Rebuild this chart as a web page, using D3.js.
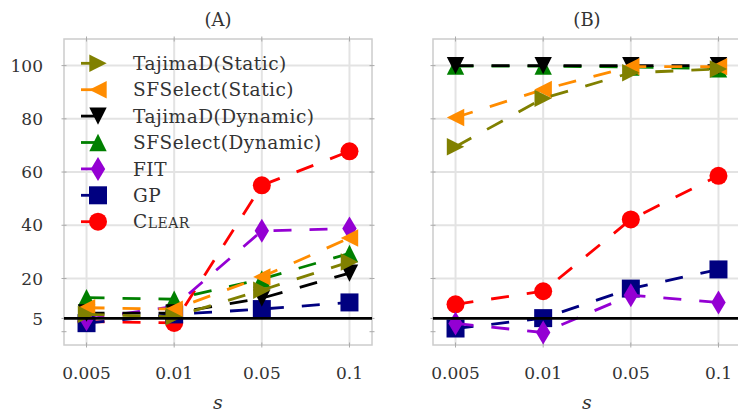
<!DOCTYPE html>
<html>
<head>
<meta charset="utf-8">
<script src="https://cdn.jsdelivr.net/npm/d3@7"></script>
<style>
	body { margin: 0; background: #fff; }
	text { font-family: "DejaVu Serif", serif; fill: #333; }
</style>
</head>
<body>
<svg id="chart"></svg>
<script>
const WIDTH = 738;
const HEIGHT = 412;

const sLabels = ["0.005", "0.01", "0.05", "0.1"];
const seriesNames = [
	"TajimaD(Static)",
	"SFSelect(Static)",
	"TajimaD(Dynamic)",
	"SFSelect(Dynamic)",
	"FIT",
	"GP",
	"Clear",
];
const seriesColors = ["#808000", "#ff8c00", "#000000", "#008000", "#9400d3", "#000080", "#ff0000"];
const seriesMarkers = ["right", "left", "down", "up", "diamond", "square", "circle"];

// panel (A)
const tajimaStaticA = [6.5, 5.6, 15.6, 26.2];
const sfselectStaticA = [9, 8.5, 20.6, 35.2];
const tajimaDynamicA = [7, 7, 12.6, 22];
const sfselectDynamicA = [12.8, 12.2, 19.8, 29.4];
const fitA = [4.7, 9.5, 37.9, 38.8];
const gpA = [3.2, 6.5, 8.5, 11];
const clearA = [3.8, 3.3, 55, 67.8];

// panel (B)
const tajimaStaticB = [69.5, 87.7, 97.3, 98.7];
const sfselectStaticB = [80.5, 91, 99.6, 99.6];
const tajimaDynamicB = [100, 100, 100, 100];
const sfselectDynamicB = [99.8, 99.8, 99.5, 98.8];
const fitB = [3.1, -0.3, 13.7, 11];
const gpB = [1.2, 5.1, 16.2, 23.4];
const clearB = [10.3, 15.2, 42.2, 58.6];

const panelTitles = ["(A)", "(B)"];
const yTickMarks = [0, 5, 20, 40, 60, 80, 100];
const yTickLabels = [5, 20, 40, 60, 80, 100];
const yGridLines = [20, 40, 60, 80, 100];
const referenceLevel = 5;
const xAxisTitle = "s";

const panelSeries = [
	[tajimaStaticA, sfselectStaticA, tajimaDynamicA, sfselectDynamicA, fitA, gpA, clearA],
	[tajimaStaticB, sfselectStaticB, tajimaDynamicB, sfselectDynamicB, fitB, gpB, clearB],
];

const svg = d3.select("#chart").attr("width", WIDTH).attr("height", HEIGHT);

const PANEL_LEFTS = [64, 433];
const PANEL_W = 308;
const PLOT_TOP = 39;
const PLOT_BOTTOM = 345;

const y = d3.scaleLinear([-5, 110], [PLOT_BOTTOM, PLOT_TOP]);
const line = d3.line();

function markerPath(kind) {
	const h = 8.7;
	switch (kind) {
		case "right":
			return `M${-h},${-h}L${h},0L${-h},${h}Z`;
		case "left":
			return `M${h},${-h}L${-h},0L${h},${h}Z`;
		case "down":
			return `M${-h},${-h}L${h},${-h}L0,${h}Z`;
		case "up":
			return `M0,${-h}L${h},${h}L${-h},${h}Z`;
		case "diamond":
			return "M0,-12L7.2,0L0,12L-7.2,0Z";
		case "square":
			return "M-9,-9H9V9H-9Z";
		case "circle":
			return d3.symbol(d3.symbolCircle, Math.PI * 81)();
	}
}

function drawPanel(p) {
	const left = PANEL_LEFTS[p];
	const right = left + PANEL_W;
	const x = d3.scalePoint(sLabels, [left, right]).padding(0.257);
	const g = svg.append("g");

	// grid
	g.selectAll(".vgrid").data(sLabels).join("line")
		.attr("x1", d => x(d)).attr("x2", d => x(d))
		.attr("y1", PLOT_TOP).attr("y2", PLOT_BOTTOM)
		.attr("stroke", "#e3e3e3").attr("stroke-width", 2);
	g.selectAll(".hgrid").data(yGridLines).join("line")
		.attr("x1", left).attr("x2", right)
		.attr("y1", d => y(d)).attr("y2", d => y(d))
		.attr("stroke", "#e3e3e3").attr("stroke-width", 2);

	// frame
	g.append("rect")
		.attr("x", left).attr("y", PLOT_TOP)
		.attr("width", PANEL_W).attr("height", PLOT_BOTTOM - PLOT_TOP)
		.attr("fill", "none").attr("stroke", "#cccccc").attr("stroke-width", 1.5);

	// small tick marks on all four edges
	const tickColor = "#aaa";
	[left, right].forEach(ex => {
		g.selectAll(null).data(yTickMarks).join("line")
			.attr("x1", ex - 2.5).attr("x2", ex + 2.5)
			.attr("y1", d => y(d)).attr("y2", d => y(d))
			.attr("stroke", tickColor).attr("stroke-width", 1);
	});
	[PLOT_TOP, PLOT_BOTTOM].forEach(ey => {
		g.selectAll(null).data(sLabels).join("line")
			.attr("x1", d => x(d)).attr("x2", d => x(d))
			.attr("y1", ey - 2.5).attr("y2", ey + 2.5)
			.attr("stroke", tickColor).attr("stroke-width", 1);
	});

	// x tick labels
	g.selectAll(".xlab").data(sLabels).join("text")
		.attr("x", d => x(d)).attr("y", 379)
		.attr("text-anchor", "middle")
		.style("font-size", "17px")
		.text(d => d);

	// y tick labels (left panel only)
	if (p === 0) {
		g.selectAll(".ylab").data(yTickLabels).join("text")
			.attr("x", 43).attr("y", d => y(d))
			.attr("dy", "0.36em")
			.attr("text-anchor", "end")
			.style("font-size", "17px")
			.text(d => d);
	}

	// titles
	g.append("text")
		.attr("x", (left + Math.min(right, left + PANEL_W)) / 2 - 0)
		.attr("y", 26)
		.attr("text-anchor", "middle")
		.style("font-size", "18px")
		.text(panelTitles[p]);
	g.append("text")
		.attr("x", left + 154).attr("y", 409)
		.attr("text-anchor", "middle")
		.style("font-size", "19px").style("font-style", "italic")
		.text(xAxisTitle);

	// series, drawn last-to-first so the first legend entry sits on top
	const data = panelSeries[p];
	d3.range(data.length).reverse().forEach(i => {
		const pts = data[i].map((v, j) => [x(sLabels[j]), y(v)]);
		const sg = g.append("g");
		sg.append("path")
			.attr("d", line(pts))
			.attr("fill", "none")
			.attr("stroke", seriesColors[i])
			.attr("stroke-width", 2.8)
			.attr("stroke-dasharray", "18,18");
		sg.selectAll("path.mk").data(pts).join("path")
			.attr("class", "mk")
			.attr("transform", d => `translate(${d[0]},${d[1]})`)
			.attr("d", markerPath(seriesMarkers[i]))
			.attr("fill", seriesColors[i]);
	});

	// reference line
	g.append("line")
		.attr("x1", left).attr("x2", right)
		.attr("y1", y(referenceLevel)).attr("y2", y(referenceLevel))
		.attr("stroke", "#000").attr("stroke-width", 2.6);

	return x;
}

drawPanel(0);
drawPanel(1);

// legend in panel (A)
const legend = svg.append("g");
const legendTop = 63.3;
const legendStep = 26.4;
seriesNames.forEach((name, i) => {
	const ly = legendTop + i * legendStep;
	legend.append("line")
		.attr("x1", 81).attr("x2", 98)
		.attr("y1", ly).attr("y2", ly)
		.attr("stroke", seriesColors[i]).attr("stroke-width", 2.8);
	legend.append("path")
		.attr("transform", `translate(98,${ly})`)
		.attr("d", markerPath(seriesMarkers[i]))
		.attr("fill", seriesColors[i]);
	const t = legend.append("text")
		.attr("x", 133).attr("y", ly).attr("dy", "0.36em")
		.style("font-size", "18.5px")
		.style("letter-spacing", "0.5px");
	if (name === "Clear") {
		t.append("tspan").text("C");
		t.append("tspan").style("font-size", "14px").text("LEAR");
	} else {
		t.text(name);
	}
});
</script>
</body>
</html>
